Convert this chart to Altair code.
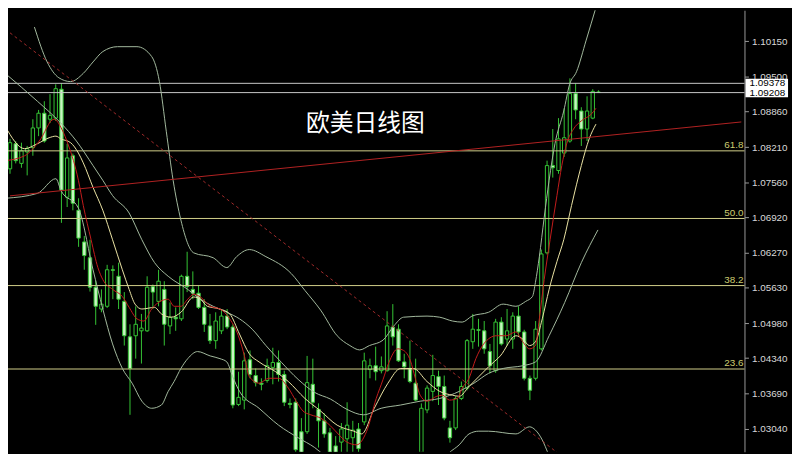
import altair as alt
import pandas as pd

# ---------------- data ----------------
opens = [1.0781, 1.0827, 1.0791, 1.0812, 1.0820, 1.0856, 1.0883, 1.0872, 1.0874, 1.0927,
         1.0729, 1.0805, 1.0705, 1.0647, 1.0618, 1.0564, 1.0524, 1.0529, 1.0596, 1.0584,
         1.0538, 1.0473, 1.0475, 1.0484, 1.0484, 1.0565, 1.0538, 1.0560, 1.0493, 1.0509,
         1.0506, 1.0584, 1.0560, 1.0553, 1.0527, 1.0493, 1.0466, 1.0484, 1.0511, 1.0491,
         1.0349, 1.0357, 1.0431, 1.0402, 1.0388, 1.0393, 1.0417, 1.0426, 1.0404, 1.0351,
         1.0353, 1.0299, 1.0299, 1.0386, 1.0340, 1.0319, 1.0297, 1.0273, 1.0280, 1.0286,
         1.0288, 1.0304, 1.0317, 1.0413, 1.0420, 1.0411, 1.0411, 1.0491, 1.0487, 1.0427,
         1.0415, 1.0388, 1.0259, 1.0339, 1.0373, 1.0400, 1.0382, 1.0306, 1.0306, 1.0360,
         1.0379, 1.0464, 1.0486, 1.0484, 1.0446, 1.0411, 1.0500, 1.0469, 1.0469, 1.0511,
         1.0482, 1.0397, 1.0397, 1.0451, 1.0627, 1.0787, 1.0778, 1.0810, 1.0832, 1.0919,
         1.0887, 1.0854, 1.0874, 1.0922]
highs = [1.0836, 1.0832, 1.0829, 1.0823, 1.0872, 1.0889, 1.0905, 1.0918, 1.0936, 1.0938,
         1.0827, 1.0809, 1.0727, 1.0658, 1.0651, 1.0576, 1.0560, 1.0605, 1.0604, 1.0609,
         1.0555, 1.0496, 1.0529, 1.0515, 1.0584, 1.0569, 1.0596, 1.0575, 1.0536, 1.0527,
         1.0587, 1.0629, 1.0593, 1.0567, 1.0542, 1.0515, 1.0518, 1.0524, 1.0524, 1.0496,
         1.0409, 1.0444, 1.0448, 1.0415, 1.0397, 1.0433, 1.0453, 1.0448, 1.0411, 1.0360,
         1.0360, 1.0324, 1.0438, 1.0433, 1.0351, 1.0333, 1.0306, 1.0291, 1.0315, 1.0353,
         1.0319, 1.0315, 1.0444, 1.0433, 1.0455, 1.0437, 1.0520, 1.0533, 1.0496, 1.0442,
         1.0466, 1.0433, 1.0351, 1.0384, 1.0440, 1.0411, 1.0402, 1.0319, 1.0364, 1.0391,
         1.0469, 1.0515, 1.0506, 1.0502, 1.0460, 1.0506, 1.0509, 1.0524, 1.0518, 1.0529,
         1.0486, 1.0402, 1.0502, 1.0633, 1.0796, 1.0854, 1.0874, 1.0892, 1.0947, 1.0938,
         1.0894, 1.0914, 1.0927, 1.0925]
lows = [1.0772, 1.0791, 1.0783, 1.0769, 1.0805, 1.0841, 1.0829, 1.0865, 1.0869, 1.0682,
        1.0711, 1.0705, 1.0638, 1.0596, 1.0556, 1.0495, 1.0518, 1.0526, 1.0542, 1.0524,
        1.0457, 1.0330, 1.0433, 1.0424, 1.0482, 1.0524, 1.0529, 1.0457, 1.0478, 1.0484,
        1.0502, 1.0555, 1.0542, 1.0524, 1.0482, 1.0460, 1.0451, 1.0478, 1.0487, 1.0342,
        1.0346, 1.0340, 1.0397, 1.0382, 1.0375, 1.0389, 1.0386, 1.0391, 1.0346, 1.0342,
        1.0251, 1.0248, 1.0295, 1.0342, 1.0270, 1.0288, 1.0248, 1.0237, 1.0251, 1.0251,
        1.0251, 1.0255, 1.0311, 1.0397, 1.0393, 1.0406, 1.0409, 1.0457, 1.0427, 1.0397,
        1.0388, 1.0355, 1.0237, 1.0333, 1.0355, 1.0348, 1.0320, 1.0279, 1.0302, 1.0357,
        1.0375, 1.0451, 1.0455, 1.0442, 1.0406, 1.0407, 1.0457, 1.0457, 1.0451, 1.0475,
        1.0393, 1.0357, 1.0393, 1.0448, 1.0624, 1.0765, 1.0772, 1.0803, 1.0829, 1.0872,
        1.0823, 1.0832, 1.0872, 1.0921]
closes = [1.0829, 1.0796, 1.0814, 1.0818, 1.0856, 1.0883, 1.0832, 1.0879, 1.0928, 1.0742,
          1.0801, 1.0718, 1.0654, 1.0622, 1.0564, 1.0529, 1.0533, 1.0596, 1.0595, 1.0542,
          1.0475, 1.0415, 1.0496, 1.0489, 1.0564, 1.0555, 1.0575, 1.0496, 1.0509, 1.0506,
          1.0584, 1.0565, 1.0553, 1.0527, 1.0496, 1.0466, 1.0502, 1.0511, 1.0491, 1.0348,
          1.0362, 1.0429, 1.0404, 1.0389, 1.0386, 1.0420, 1.0426, 1.0404, 1.0353, 1.0349,
          1.0266, 1.0261, 1.0389, 1.0353, 1.0319, 1.0295, 1.0261, 1.0259, 1.0304, 1.0311,
          1.0302, 1.0268, 1.0429, 1.0420, 1.0409, 1.0418, 1.0493, 1.0473, 1.0429, 1.0418,
          1.0391, 1.0357, 1.0342, 1.0379, 1.0402, 1.0382, 1.0324, 1.0288, 1.0360, 1.0382,
          1.0466, 1.0487, 1.0485, 1.0451, 1.0420, 1.0500, 1.0460, 1.0484, 1.0511, 1.0482,
          1.0397, 1.0375, 1.0487, 1.0625, 1.0787, 1.0783, 1.0836, 1.0838, 1.0919, 1.0889,
          1.0854, 1.0887, 1.0923, 1.0921]

# fast moving average (red)
red_ma_i = [-0.85, 2.56, 5.13, 7.69, 9.06, 10.26, 11.11, 11.97, 12.82, 14.19, 15.38, 16.24,
            17.95, 19.66, 20.85, 22.22, 23.42, 24.79, 25.98, 27.69, 28.72, 29.91, 31.11,
            32.14, 33.33, 35.04, 36.75, 38.46, 40.17, 41.03, 41.88, 43.59, 45.30, 47.01,
            48.72, 50.09, 51.28, 52.65, 54.36, 56.07, 57.61, 58.97, 60.68, 62.39, 64.10,
            65.30, 66.32, 67.86, 68.89, 70.09, 70.94, 71.79, 72.99, 74.70, 75.73, 76.92,
            78.29, 79.15, 80.34, 81.54, 82.91, 85.13, 86.84, 88.55, 89.74, 90.94, 91.97,
            92.65, 93.50, 94.53, 95.73, 96.58, 97.44, 98.63, 100.0, 101.71, 102.56]
red_ma_p = [1.0796, 1.0805, 1.0832, 1.0872, 1.0854, 1.0823, 1.0796, 1.0760, 1.0714, 1.0651,
            1.0600, 1.0578, 1.0560, 1.0547, 1.0527, 1.0506, 1.0502, 1.0524, 1.0536, 1.0542,
            1.0529, 1.0529, 1.0542, 1.0551, 1.0546, 1.0529, 1.0524, 1.0506, 1.0469, 1.0438,
            1.0400, 1.0388, 1.0397, 1.0397, 1.0379, 1.0355, 1.0337, 1.0330, 1.0324, 1.0310,
            1.0293, 1.0280, 1.0275, 1.0299, 1.0360, 1.0395, 1.0426, 1.0451, 1.0448, 1.0429,
            1.0397, 1.0366, 1.0355, 1.0364, 1.0366, 1.0357, 1.0360, 1.0379, 1.0397, 1.0433,
            1.0460, 1.0475, 1.0475, 1.0482, 1.0464, 1.0451, 1.0457, 1.0506, 1.0578, 1.0651,
            1.0732, 1.0787, 1.0827, 1.0854, 1.0869, 1.0881, 1.0892]

# slower moving average (pale yellow)
yel_ma_i = [-0.85, 2.56, 4.79, 6.84, 8.03, 8.89, 10.60, 11.97, 12.82, 14.53, 16.24, 17.95,
            19.66, 20.85, 21.88, 23.08, 25.30, 26.50, 28.21, 29.91, 32.14, 33.33, 34.53,
            36.75, 38.46, 40.17, 41.88, 43.59, 46.50, 48.72, 51.62, 54.36, 57.26, 60.17,
            61.54, 63.76, 66.15, 68.38, 70.60, 72.99, 75.21, 77.44, 78.63, 80.34, 82.05,
            83.76, 85.81, 88.55, 89.74, 90.94, 91.97, 93.16, 94.36, 95.73, 96.92, 98.29,
            100.0, 101.37, 102.56]
yel_ma_p = [1.0859, 1.0818, 1.0827, 1.0838, 1.0841, 1.0836, 1.0829, 1.0810, 1.0792, 1.0747,
            1.0705, 1.0651, 1.0596, 1.0560, 1.0533, 1.0524, 1.0527, 1.0515, 1.0509, 1.0518,
            1.0546, 1.0542, 1.0529, 1.0524, 1.0515, 1.0478, 1.0442, 1.0427, 1.0409, 1.0391,
            1.0360, 1.0337, 1.0311, 1.0300, 1.0295, 1.0342, 1.0388, 1.0415, 1.0415, 1.0391,
            1.0373, 1.0366, 1.0364, 1.0382, 1.0400, 1.0418, 1.0438, 1.0475, 1.0469, 1.0457,
            1.0464, 1.0506, 1.0560, 1.0611, 1.0651, 1.0714, 1.0787, 1.0836, 1.0863]

# band lines (upper / middle / lower)
upper_i = [4.27, 6.50, 8.55, 10.60, 12.82, 14.53, 16.24, 18.80, 22.22, 24.79, 26.15, 27.35,
           28.55, 29.91, 32.14, 35.56, 37.95, 39.66, 41.88, 44.79, 49.23, 51.62, 54.36,
           57.26, 59.49, 61.20, 62.91, 65.30, 67.18, 68.89, 72.99, 75.21, 77.44, 79.15,
           80.85, 83.76, 86.32, 88.55, 90.26, 91.45, 91.97, 92.65, 93.50, 94.36, 95.38,
           96.92, 97.95, 99.15, 100.85, 102.56]
upper_p = [1.1041, 1.0977, 1.0948, 1.0941, 1.0956, 1.0977, 1.0996, 1.1005, 1.1005, 1.0987,
           1.0941, 1.0850, 1.0760, 1.0687, 1.0627, 1.0618, 1.0600, 1.0620, 1.0633, 1.0620,
           1.0589, 1.0558, 1.0522, 1.0475, 1.0457, 1.0449, 1.0457, 1.0467, 1.0493, 1.0509,
           1.0511, 1.0509, 1.0502, 1.0500, 1.0511, 1.0518, 1.0533, 1.0529, 1.0538, 1.0547,
           1.0573, 1.0620, 1.0692, 1.0760, 1.0827, 1.0887, 1.0936, 1.0959, 1.1017, 1.1077]
middle_i = [-0.85, 4.79, 8.89, 11.62, 14.53, 16.24, 17.95, 20.85, 23.08, 25.30, 27.69, 31.11,
            33.33, 35.56, 37.95, 40.17, 42.39, 44.79, 47.52, 50.43, 53.33, 56.07, 58.97,
            61.88, 64.96, 68.38, 71.79, 75.21, 78.63, 81.20, 83.76, 86.32, 89.74, 91.97,
            94.36, 97.09, 100.0, 102.91]
middle_p = [1.0956, 1.0905, 1.0865, 1.0832, 1.0787, 1.0760, 1.0732, 1.0700, 1.0651, 1.0609,
            1.0584, 1.0560, 1.0542, 1.0529, 1.0518, 1.0506, 1.0487, 1.0457, 1.0426, 1.0395,
            1.0371, 1.0359, 1.0340, 1.0330, 1.0342, 1.0348, 1.0355, 1.0360, 1.0373, 1.0388,
            1.0406, 1.0415, 1.0420, 1.0427, 1.0475, 1.0536, 1.0609, 1.0669]
lower_i = [-0.85, 4.79, 8.03, 8.89, 11.97, 14.53, 16.24, 17.95, 19.66, 21.37, 23.08, 24.79,
           26.50, 27.69, 28.72, 29.91, 31.11, 32.82, 35.04, 36.75, 37.95, 38.97, 40.17,
           43.59, 47.01, 50.43, 53.33, 55.56, 58.97, 67.52, 74.36, 76.92, 78.63, 80.34,
           82.05, 83.76, 88.55, 90.94, 91.97, 93.16, 94.19, 95.73]
lower_p = [1.0727, 1.0736, 1.0763, 1.0742, 1.0709, 1.0596, 1.0524, 1.0460, 1.0415, 1.0388,
           1.0355, 1.0342, 1.0348, 1.0373, 1.0391, 1.0415, 1.0433, 1.0446, 1.0438, 1.0433,
           1.0427, 1.0400, 1.0373, 1.0342, 1.0311, 1.0288, 1.0270, 1.0251, 1.0224, 1.0215,
           1.0233, 1.0261, 1.0275, 1.0295, 1.0300, 1.0300, 1.0295, 1.0308, 1.0302, 1.0284,
           1.0259, 1.0215]

fib_labels = ["61.8", "50.0", "38.2", "23.6"]
fib_prices = [1.0814, 1.0690, 1.0567, 1.0414]
marker_labels = ["1.09378", "1.09208"]
marker_prices = [1.09378, 1.09208]
axis_ticks = [1.10790, 1.10150, 1.09500, 1.08860, 1.08210, 1.07560, 1.06920,
              1.06270, 1.05630, 1.04980, 1.04340, 1.03690, 1.03040]
trend_i = [0, 128]
trend_p = [1.07315, 1.08670]
dash_i = [0, 97]
dash_p = [1.10304, 1.02510]
title_text = "欧美日线图"

# ---------------- styling ----------------
GREEN = "#35c435"
BEAR_FILL = "#c8f5c2"
FIB_COL = "#d2cf8a"
FIB_TXT = "#cccc70"
BAND_COL = "#a3b99e"
W, H = 744, 446

xs = alt.Scale(domain=[0.513, 127.69], nice=False, zero=False)
ys = alt.Scale(domain=[1.02623, 1.10718], nice=False, zero=False)
X = alt.X("i:Q", scale=xs, axis=None)

yaxis = alt.Axis(orient="right", values=axis_ticks, format=".5f", title=None,
                 labelFont="Liberation Sans", labelFontSize=10, labelColor="#d8d8d8",
                 tickColor="#9a9a9a", domainColor="#9a9a9a", tickSize=4,
                 labelPadding=3, grid=False, labelOverlap=False, labelFlush=False)


def Y(field):
    return alt.Y(field, scale=ys, axis=yaxis, title=None)


cdf = pd.DataFrame({"i": list(range(len(opens))), "open": opens, "high": highs,
                    "low": lows, "close": closes})

wicks = alt.Chart(cdf).mark_rule(color=GREEN, strokeWidth=1, clip=True).encode(
    x=X, y=Y("low:Q"), y2="high:Q")

bodies = alt.Chart(cdf).mark_bar(size=3.4, strokeWidth=1, stroke=GREEN, clip=True).encode(
    x=X,
    y=Y("open:Q"),
    y2="close:Q",
    fill=alt.condition("datum.close > datum.open", alt.value("#000000"), alt.value(BEAR_FILL)))


def hrule(prices, color):
    return alt.Chart(pd.DataFrame({"p": prices})).mark_rule(
        strokeWidth=1, color=color).encode(y=Y("p:Q"))


def curve(ii, pp, color, **kw):
    return alt.Chart(pd.DataFrame({"i": ii, "p": pp})).mark_line(
        strokeWidth=1, color=color, clip=True, **kw).encode(x=X, y=Y("p:Q"))


fib_rules = hrule(fib_prices, FIB_COL)
mark_rules = hrule(marker_prices, "#c8c8c8")

upper = curve(upper_i, upper_p, BAND_COL, interpolate="monotone")
middle = curve(middle_i, middle_p, BAND_COL, interpolate="monotone")
lower = curve(lower_i, lower_p, BAND_COL, interpolate="monotone")
yel = curve(yel_ma_i, yel_ma_p, "#ece4a4", interpolate="monotone")
red = curve(red_ma_i, red_ma_p, "#c41c1c", interpolate="monotone")
trend = curve(trend_i, trend_p, "#b22222")
dashed = curve(dash_i, dash_p, "#a02a2a", strokeDash=[3, 3])

fibtxt = alt.Chart(pd.DataFrame({"p": fib_prices, "t": fib_labels})).mark_text(
    align="right", baseline="bottom", dy=-1, fontSize=10, font="Liberation Sans",
    color=FIB_TXT).encode(x=alt.value(743), y=Y("p:Q"), text="t:N")

title = alt.Chart(pd.DataFrame({"t": [title_text]})).mark_text(
    fontSize=24, font="Noto Sans CJK SC", color="#ffffff", align="center",
    baseline="middle").encode(x=alt.value(361), y=alt.value(115), text="t:N")

mdf = pd.DataFrame({"p": marker_prices, "t": marker_labels})
boxes = alt.Chart(mdf).transform_calculate(
    top="datum.p + 0.00085", bot="datum.p - 0.00085").mark_rect(fill="#ffffff").encode(
    x=alt.value(745), x2=alt.value(788),
    y=Y("top:Q"), y2="bot:Q")
boxtxt = alt.Chart(mdf).mark_text(
    align="left", baseline="middle", fontSize=10, font="Liberation Sans",
    color="#000000").encode(x=alt.value(749), y=Y("p:Q"), text="t:N")

chart = alt.layer(
    wicks, bodies, fib_rules, mark_rules, upper, middle, lower, yel, red,
    trend, dashed, fibtxt, title, boxes, boxtxt
).properties(
    width=W, height=H,
    padding={"left": 0, "top": 0, "right": 48, "bottom": 0},
    autosize=alt.AutoSizeParams(type="none"),
    background="#000000",
).configure_view(strokeWidth=0)

chart.save("out.html", embed_options={"renderer": "svg", "actions": False})
